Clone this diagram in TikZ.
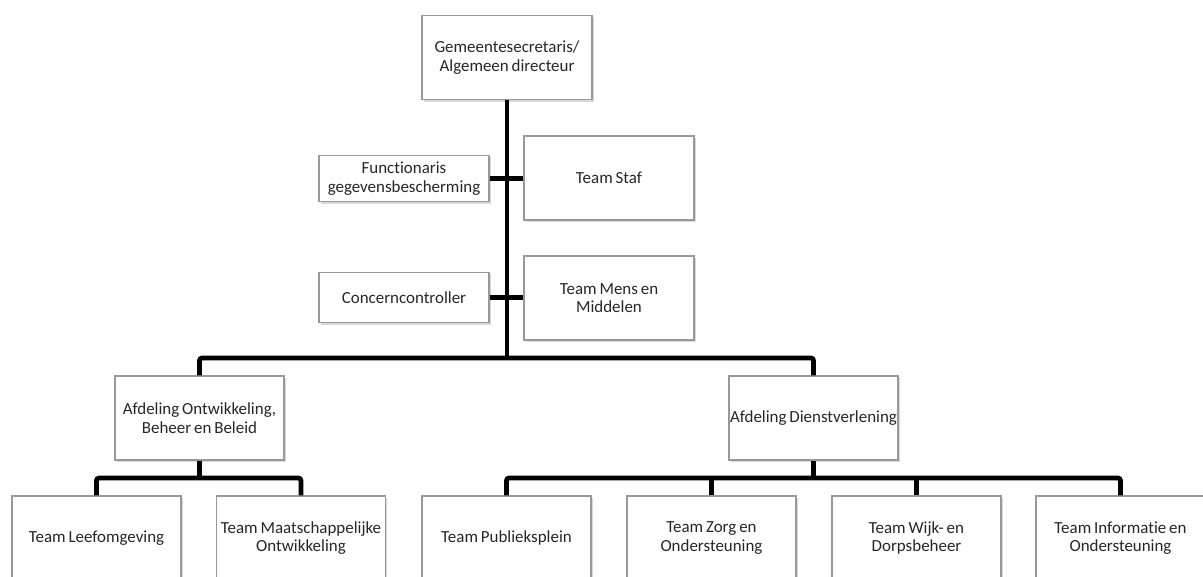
\documentclass[tikz,border=0pt]{standalone}
\usepackage{fontspec}
\setmainfont{Carlito}[Ligatures=NoCommon, WordSpace=0.75]
\usetikzlibrary{shadows}
\begin{document}
\begin{tikzpicture}[x=0.75pt,y=-0.75pt,
  box/.style={draw=black!40, line width=0.8pt, fill=white, align=center,
    inner sep=0pt, minimum width=127.5pt, text=black!85,
    font=\fontsize{12.7}{14}\selectfont,
    drop shadow={opacity=0.3, shadow xshift=1.2pt, shadow yshift=-1.5pt}},
  tall/.style={box, minimum height=63.5pt},
  low/.style={box, minimum width=126.75pt, minimum height=63pt},
  link/.style={line width=3.6pt, black, rounded corners=2pt},
]
\useasboundingbox (0,0) rectangle (1203,576);
\fill[white] (0,0) rectangle (1203,576);

% nodes
\node[tall] (top) at (507,57.5) {Gemeentesecretaris/\\Algemeen directeur};
\node[box, minimum height=35pt] (func) at (404,178.5) {Functionaris\\gegevensbescherming};
\node[tall, minimum height=63pt] (staf) at (609,178) {Team Staf};
\node[box, minimum height=38pt] (conc) at (404,297.5) {Concerncontroller};
\node[tall, minimum height=63pt] (mens) at (609,298) {Team Mens en\\Middelen};
\node[low] (ao) at (199.5,418) {Afdeling Ontwikkeling,\\Beheer en Beleid};
\node[low] (dv) at (813.5,418) {Afdeling Dienstverlening};
\node[low] (lf) at (96.5,538) {Team Leefomgeving};
\node[low] (mo) at (301,538) {Team Maatschappelijke\\Ontwikkeling};
\node[low] (pp) at (506.5,538) {Team Publieksplein};
\node[low] (zo) at (711.5,538) {Team Zorg en\\Ondersteuning};
\node[low] (wd) at (916.5,538) {Team Wijk- en\\Dorpsbeheer};
\node[low] (io) at (1120.5,538) {Team Informatie en\\Ondersteuning};

% junction coordinates
\coordinate (mainbus) at (507,358);
\coordinate (aobus) at (199.5,478);
\coordinate (dvbus) at (813.5,478);

% connectors
\draw[link] (top.south) -- (mainbus);
\draw[link] (func.east) -- (staf.west |- func.east);
\draw[link] (conc.east) -- (mens.west |- conc.east);
\draw[link] (ao.north) |- (mainbus) -| (dv.north);
\draw[link] (ao.south) -- (aobus);
\draw[link] (lf.north) |- (aobus) -| (mo.north);
\draw[link] (dv.south) -- (dvbus);
\draw[link] (pp.north) |- (dvbus) -| (io.north);
\draw[link] (zo.north) -- (zo.north |- dvbus);
\draw[link] (wd.north) -- (wd.north |- dvbus);
\end{tikzpicture}
\end{document}
